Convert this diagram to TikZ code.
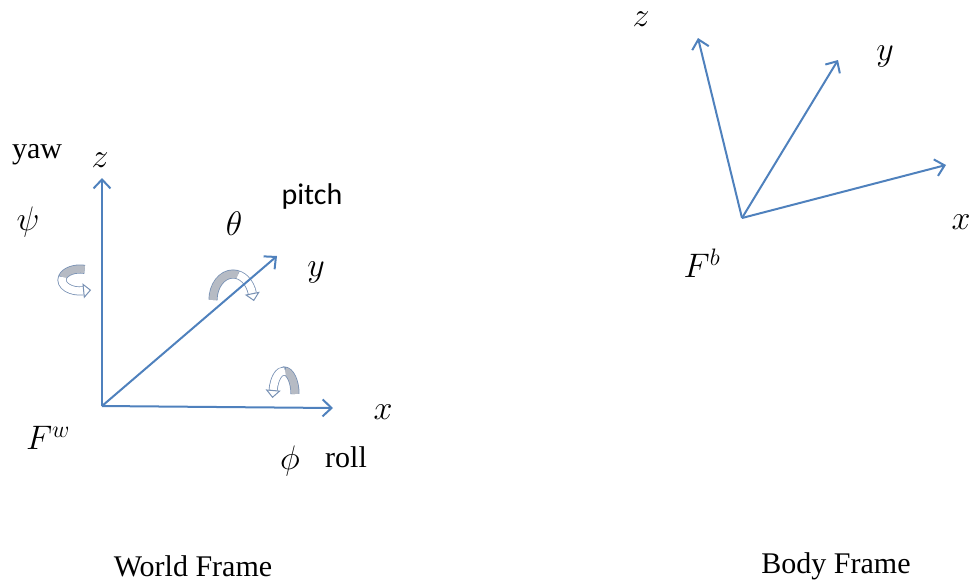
\RequirePackage{fix-cm}
\documentclass[tikz,border=0pt]{standalone}
\usepackage{fontspec}
\setmainfont{Liberation Serif}
\newfontfamily\calibri{Carlito}
\usetikzlibrary{arrows.meta}

\definecolor{axisblue}{RGB}{79,129,189}
\definecolor{bandgray}{RGB}{182,187,196}
\definecolor{bandedge}{RGB}{120,145,180}

\tikzset{
  axis/.style={draw=axisblue, line width=2pt, -{Straight Barb[length=9pt, width=17pt, line width=2pt]}},
  lbl/.style={inner sep=0pt, font=\fontsize{30}{32}\selectfont},
  mlbl/.style={inner sep=0pt, font=\fontsize{34}{36}\selectfont},
  bandout/.style={draw=bandedge, line width=9pt},
  bandgrey/.style={draw=bandgray, line width=7.4pt},
  bandwhite/.style={draw=white, line width=7.4pt},
  bandtip/.style={-{Triangle[open, fill=white, length=8pt, width=15pt, line width=1pt]}, draw=bandedge, line width=0.1pt},
}

\begin{document}
\begin{tikzpicture}[x=1pt, y=-1pt]
  \useasboundingbox (0,0) rectangle (972,582);

  % ---- world frame ----
  \coordinate (Ow) at (102,406);
  \coordinate (zw) at (102,178);
  \coordinate (xw) at (333,408);
  \coordinate (yw) at (277,256);
  \draw[axis] (Ow) -- (zw);
  \draw[axis] (Ow) -- (xw);

  % yaw band round z
  \draw[bandout]   (80,280) ++(285:18 and 11) arc[start angle=285, end angle=80, x radius=18, y radius=11];
  \draw[bandgrey]  (80,280) ++(285:18 and 11) arc[start angle=285, end angle=195, x radius=18, y radius=11];
  \draw[bandwhite] (80,280) ++(195:18 and 11) arc[start angle=195, end angle=80, x radius=18, y radius=11];
  \draw[bandtip]   (80,280) ++(80:18 and 11) -- ++(8,-0.8);

  % pitch band round y, the axis runs over it
  \draw[bandout]   (233,300) ++(180:20 and 26) arc[start angle=180, end angle=345, x radius=20, y radius=26];
  \draw[bandgrey]  (233,300) ++(180:20 and 26) arc[start angle=180, end angle=285, x radius=20, y radius=26];
  \draw[bandwhite] (233,300) ++(285:20 and 26) arc[start angle=285, end angle=345, x radius=20, y radius=26];
  \draw[bandtip]   (233,300) ++(345:20 and 26) -- ++(1.6,7.8);
  \draw[axis] (Ow) -- (yw);

  % roll band round x
  \draw[bandout]   (284,394) ++(360:11 and 23) arc[start angle=360, end angle=190, x radius=11, y radius=23];
  \draw[bandgrey]  (284,394) ++(360:11 and 23) arc[start angle=360, end angle=275, x radius=11, y radius=23];
  \draw[bandwhite] (284,394) ++(275:11 and 23) arc[start angle=275, end angle=190, x radius=11, y radius=23];
  \draw[bandtip]   (284,394) ++(190:11 and 23) -- ++(-0.7,8);

  \node[lbl]  (yaw)   at (37,155)  {yaw};
  \node[mlbl] (zwl)   at (100,160) {$z$};
  \node[mlbl] (psi)   at (28,222)  {$\psi$};
  \node[mlbl] (theta) at (234,224) {$\theta$};
  \node[lbl, font=\calibri\fontsize{30}{32}\selectfont] (pitch) at (312,196) {pitch};
  \node[mlbl] (ywl)   at (316,272) {$y$};
  \node[mlbl] (xwl)   at (383,412) {$x$};
  \node[mlbl] (Fw)    at (48,438)  {$F^{w}$};
  \node[mlbl] (phi)   at (290,461) {$\phi$};
  \node[lbl]  (roll)  at (346,457) {roll};
  \node[lbl]  (world) at (193,566) {World Frame};

  % ---- body frame ----
  \coordinate (Ob) at (742,218);
  \coordinate (zb) at (698,38);
  \coordinate (yb) at (838,60);
  \coordinate (xb) at (946,165);
  \draw[axis] (Ob) -- (zb);
  \draw[axis] (Ob) -- (yb);
  \draw[axis] (Ob) -- (xb);

  \node[mlbl] (zbl)  at (641,19)  {$z$};
  \node[mlbl] (ybl)  at (885,56)  {$y$};
  \node[mlbl] (xbl)  at (961,222) {$x$};
  \node[mlbl] (Fb)   at (702,263) {$F^{b}$};
  \node[lbl]  (body) at (836,566) {Body Frame};
\end{tikzpicture}
\end{document}
